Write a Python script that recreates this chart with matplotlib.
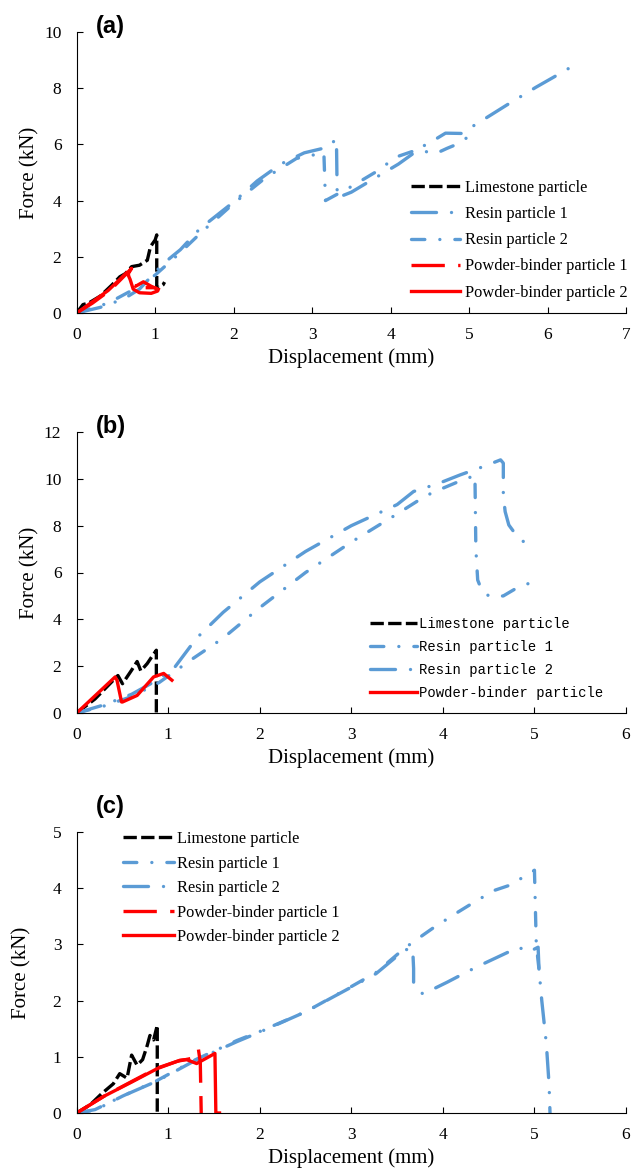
import numpy as np
import matplotlib
matplotlib.use('Agg')
import matplotlib.pyplot as plt

plt.rcParams['font.family'] = ['Liberation Serif', 'DejaVu Serif']

BLUE = '#5B9BD5'
RED = '#FF0000'

# ---- (a) ----
a_lime_x = [0, 0.08, 0.15, 0.3, 0.45, 0.55, 0.62, 0.70, 0.8, 0.9, 0.94, 1.0, 1.02, 1.02, 1.05, 1.1, 1.12]
a_lime_y = [0, 0.3, 0.35, 0.6, 1.0, 1.29, 1.4, 1.65, 1.7, 1.88, 2.36, 2.6, 2.78, 0.94, 0.9, 1.0, 1.1]
a_res1_x = [0, 0.3, 0.6, 0.8, 1.1, 1.32, 1.57, 2.0, 2.3, 2.6, 2.9, 3.2, 3.31, 3.32, 3.5, 3.8, 4.1, 4.44, 4.57, 4.7, 4.9, 5.28, 5.48, 5.85, 6.07, 6.31]
a_res1_y = [0, 0.2, 0.5, 0.85, 1.75, 2.25, 3.0, 3.95, 4.7, 5.3, 5.7, 5.9, 6.2, 4.1, 4.3, 4.8, 5.3, 5.98, 6.18, 6.4, 6.39, 7.05, 7.4, 8.03, 8.38, 8.77]
a_res2_x = [0, 0.4, 0.7, 1.0, 1.3, 1.6, 2.0, 2.4, 2.8, 3.15, 3.17, 3.5, 3.8, 4.08, 4.33, 4.58, 4.72, 4.85, 4.99, 5.05, 5.12]
a_res2_y = [0, 0.35, 0.8, 1.35, 2.1, 2.9, 3.9, 4.8, 5.5, 5.7, 4.0, 4.5, 5.0, 5.56, 5.8, 5.68, 5.86, 6.01, 6.27, 6.1, 6.1]
a_pb1_x = [0, 0.2, 0.43, 0.6, 0.70, 0.66, 0.66, 0.75, 0.85, 0.95, 1.06]
a_pb1_y = [0, 0.35, 0.82, 1.3, 1.59, 1.41, 1.06, 0.95, 1.11, 0.95, 0.82]
a_pb2_x = [0, 0.2, 0.4, 0.55, 0.64, 0.68, 0.72, 0.8, 0.95, 1.03, 1.0, 0.9]
a_pb2_y = [0, 0.4, 0.8, 1.2, 1.45, 1.2, 0.85, 0.72, 0.7, 0.78, 0.9, 0.9]

# ---- (b) ----
b_lime_x = [0, 0.2, 0.4, 0.45, 0.5, 0.6, 0.66, 0.7, 0.77, 0.82, 0.87, 0.87]
b_lime_y = [0, 0.6, 1.4, 1.6, 1.25, 1.83, 2.2, 1.8, 2.11, 2.4, 2.68, 0]
b_res1_x = [0, 0.3, 0.6, 0.9, 1.26, 1.6, 2.0, 2.5, 3.0, 3.5, 3.81, 4.0, 4.17, 4.32, 4.35, 4.36, 4.38, 4.43, 4.52, 4.66, 4.79, 4.92, 5.0]
b_res1_y = [0, 0.3, 0.7, 1.3, 2.3, 3.2, 4.5, 6.0, 7.3, 8.5, 9.27, 9.6, 9.88, 10.1, 10.17, 7.0, 5.68, 5.18, 4.96, 5.0, 5.3, 5.51, 5.6]
b_res2_x = [0, 0.3, 0.6, 0.9, 1.07, 1.31, 1.6, 2.0, 2.5, 3.0, 3.5, 3.68, 3.95, 4.19, 4.46, 4.63, 4.66, 4.66, 4.68, 4.72, 4.8, 4.9, 5.01]
b_res2_y = [0, 0.35, 0.8, 1.45, 1.95, 3.2, 4.3, 5.6, 6.9, 8.0, 8.9, 9.46, 9.8, 10.17, 10.55, 10.81, 10.67, 9.3, 8.6, 8.03, 7.6, 7.25, 6.99]
b_pb_x = [0, 0.42, 0.44, 0.49, 0.5, 0.66, 0.84, 0.95, 1.04]
b_pb_y = [0, 1.54, 1.4, 0.47, 0.47, 0.75, 1.54, 1.69, 1.4]

# ---- (c) ----
c_lime_x = [0, 0.15, 0.27, 0.4, 0.47, 0.55, 0.60, 0.66, 0.72, 0.77, 0.80, 0.84, 0.88, 0.88]
c_lime_y = [0, 0.15, 0.34, 0.52, 0.70, 0.62, 1.03, 0.85, 0.95, 1.2, 1.38, 1.3, 1.56, 0]
c_res1_x = [0, 0.2, 0.5, 0.88, 1.3, 1.75, 2.0, 2.5, 3.0, 3.27, 3.58, 3.69, 3.9, 4.14, 4.34, 4.56, 4.78, 4.85, 5.0, 5.02, 5.05]
c_res1_y = [0, 0.05, 0.3, 0.58, 0.95, 1.29, 1.45, 1.8, 2.25, 2.5, 2.93, 3.06, 3.3, 3.55, 3.75, 3.96, 4.08, 4.17, 4.32, 3.0, 2.55]
c_res2_x = [0, 0.2, 0.5, 0.88, 1.3, 1.75, 2.0, 2.5, 3.0, 3.27, 3.58, 3.67, 3.68, 3.68, 3.78, 3.9, 4.05, 4.25, 4.37, 4.71, 4.83, 4.93, 5.04, 5.05, 5.08, 5.13, 5.16, 5.17]
c_res2_y = [0, 0.06, 0.3, 0.57, 0.94, 1.27, 1.44, 1.8, 2.24, 2.48, 2.9, 2.93, 2.57, 2.27, 2.12, 2.21, 2.33, 2.5, 2.6, 2.86, 2.95, 2.86, 2.95, 2.55, 2.0, 1.23, 0.5, 0.0]
c_pb1_x = [0, 0.3, 0.6, 0.88, 1.1, 1.25, 1.3, 1.33, 1.35, 1.36]
c_pb1_y = [0, 0.3, 0.56, 0.8, 0.92, 0.97, 1.12, 1.13, 0.9, 0]
c_pb2_x = [0, 0.3, 0.6, 0.88, 1.13, 1.2, 1.31, 1.51, 1.52, 1.56]
c_pb2_y = [0, 0.3, 0.55, 0.79, 0.94, 0.95, 0.88, 1.06, 0, 0]

LW = 2.4
ls_lime = (0, (4, 1.3))
ls_long_dot = (0, (7.5, 4.5, 0.01, 4.5))
ls_dash_dot = (0, (4, 4.5, 0.01, 4.5))
ls_long_dash = (0, (10, 4))
blue_kw = dict(color=BLUE, lw=LW, dash_capstyle='round')

W, H = 633, 1175
fig = plt.figure(figsize=(W / 100, H / 100), dpi=100)
LEFT, RIGHT = 76.7, 626


def make_axes(top_px, bottom_px):
    return fig.add_axes([LEFT / W, 1 - bottom_px / H, (RIGHT - LEFT) / W, (bottom_px - top_px) / H])


def style(ax, xmax, ymax, ystep, ylab_px):
    ax.set_xlim(0, xmax)
    ax.set_ylim(0, ymax)
    ax.set_xticks(np.arange(0, xmax + 0.5, 1))
    ax.set_yticks(np.arange(0, ymax + ystep / 2, ystep))
    for s in ['top', 'right']:
        ax.spines[s].set_visible(False)
    ax.tick_params(direction='in', length=4, labelsize=12.5)
    ax.tick_params(axis='x', pad=10)
    ax.tick_params(axis='y', pad=11)
    ax.set_xlabel('Displacement (mm)', fontsize=15, labelpad=4)
    ax.set_ylabel('Force (kN)', fontsize=15)
    ax.yaxis.set_label_coords((ylab_px - LEFT) / (RIGHT - LEFT), 0.5)


# (a)
ax = make_axes(32, 313)
ax.plot(a_lime_x, a_lime_y, color='black', lw=LW, ls=ls_lime, label='Limestone particle')
ax.plot(a_res1_x, a_res1_y, ls=ls_long_dot, label='Resin particle 1', **blue_kw)
ax.plot(a_res2_x, a_res2_y, ls=ls_dash_dot, label='Resin particle 2', **blue_kw)
ax.plot(a_pb1_x, a_pb1_y, color=RED, lw=LW, ls=ls_long_dash, label='Powder-binder particle 1')
ax.plot(a_pb2_x, a_pb2_y, color=RED, lw=LW, ls='-', label='Powder-binder particle 2')
style(ax, 7, 10, 2, 39)
ax.legend(loc='upper left', bbox_to_anchor=(411 / W, 1 - 180 / H), bbox_transform=fig.transFigure,
          frameon=False, fontsize=11.8, handlelength=3.0, handletextpad=0.3, labelspacing=0.62,
          borderpad=0, borderaxespad=0)
fig.text(96 / W, 1 - 26 / H, '(a)', family='Liberation Sans', weight='bold', fontsize=17, va='center')

# (b)
ax = make_axes(432, 713)
ax.plot(b_lime_x, b_lime_y, color='black', lw=LW, ls=ls_lime, label='Limestone particle')
ax.plot(b_res1_x, b_res1_y, ls=ls_dash_dot, label='Resin particle 1', **blue_kw)
ax.plot(b_res2_x, b_res2_y, ls=ls_long_dot, label='Resin particle 2', **blue_kw)
ax.plot(b_pb_x, b_pb_y, color=RED, lw=LW, ls='-', label='Powder-binder particle')
style(ax, 6, 12, 2, 39)
ax.legend(loc='upper left', bbox_to_anchor=(370 / W, 1 - 617 / H), bbox_transform=fig.transFigure,
          frameon=False, prop={'family': 'Liberation Mono', 'size': 10}, handlelength=3.4,
          handletextpad=0.15, labelspacing=0.65, borderpad=0, borderaxespad=0)
fig.text(96 / W, 1 - 426 / H, '(b)', family='Liberation Sans', weight='bold', fontsize=17, va='center')

# (c)
ax = make_axes(832, 1113)
ax.plot(c_lime_x, c_lime_y, color='black', lw=LW, ls=ls_lime, label='Limestone particle')
ax.plot(c_res1_x, c_res1_y, ls=ls_dash_dot, label='Resin particle 1', **blue_kw)
ax.plot(c_res2_x, c_res2_y, ls=ls_long_dot, label='Resin particle 2', **blue_kw)
ax.plot(c_pb1_x, c_pb1_y, color=RED, lw=LW, ls=ls_long_dash, label='Powder-binder particle 1')
ax.plot(c_pb2_x, c_pb2_y, color=RED, lw=LW, ls='-', label='Powder-binder particle 2')
style(ax, 6, 5, 1, 31)
ax.legend(loc='upper left', bbox_to_anchor=(123 / W, 1 - 831 / H), bbox_transform=fig.transFigure,
          frameon=False, fontsize=11.8, handlelength=3.1, handletextpad=0.2, labelspacing=0.52,
          borderpad=0, borderaxespad=0)
fig.text(96 / W, 1 - 806 / H, '(c)', family='Liberation Sans', weight='bold', fontsize=17, va='center')

fig.savefig('out.png', dpi=100)
